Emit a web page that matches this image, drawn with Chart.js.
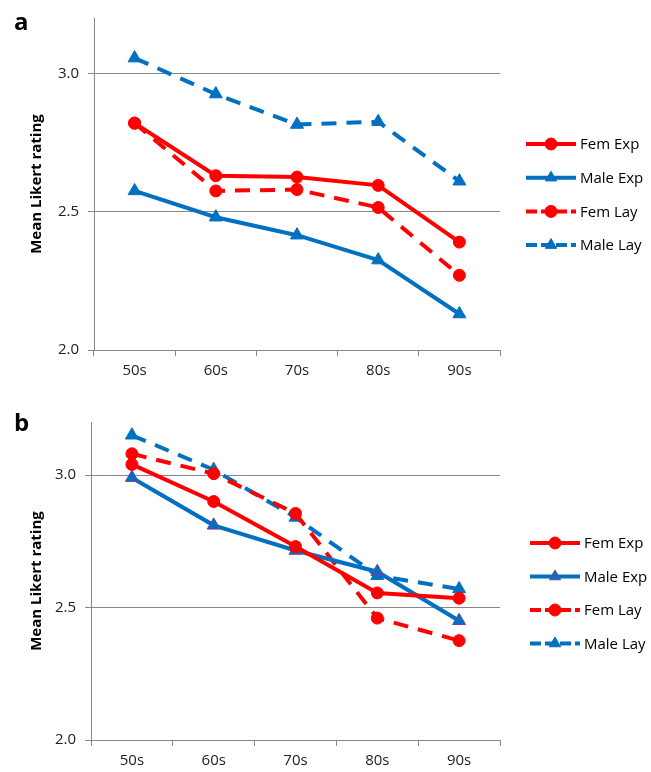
<!DOCTYPE html>
<html>
<head>
<meta charset="utf-8">
<script src="https://cdn.jsdelivr.net/npm/chart.js@4"></script>
<style>
  body { margin: 0; background: #fff; width: 651px; height: 772px; position: relative; overflow: hidden; }
  .panel { position: absolute; left: 0; width: 651px; height: 386px; }
  .tag { position: absolute; left: 14px; font: bold 24px "Open Sans", sans-serif; color: #000; }
</style>
</head>
<body>
<div class="panel" style="top:0"><canvas id="chartA"></canvas></div>
<div class="panel" style="top:386px"><canvas id="chartB"></canvas></div>
<div class="tag" style="top:4px">a</div>
<div class="tag" style="top:405px">b</div>
<script>
var decades = ['50s', '60s', '70s', '80s', '90s'];
var yTicks = [2.0, 2.5, 3.0];

// panel a
var aFemExp = [2.82, 2.63, 2.625, 2.595, 2.39];
var aMaleExp = [2.575, 2.48, 2.415, 2.325, 2.13];
var aFemLay = [2.82, 2.575, 2.58, 2.515, 2.27];
var aMaleLay = [3.055, 2.925, 2.815, 2.825, 2.61];

// panel b
var bFemExp = [3.04, 2.90, 2.73, 2.555, 2.535];
var bMaleExp = [2.99, 2.81, 2.715, 2.635, 2.45];
var bFemLay = [3.08, 3.005, 2.855, 2.46, 2.375];
var bMaleLay = [3.15, 3.02, 2.84, 2.62, 2.57];

var RED = '#ff0000';
var BLUE = '#0070c0';
var GREY = '#878787';
var FONT = '"Open Sans", sans-serif';

function series(label, data, color, dashed, shape, border) {
    return {
        label: label,
        data: data,
        borderColor: color,
        backgroundColor: color,
        borderWidth: 4,
        borderDash: dashed ? [15, 10] : [],
        tension: 0,
        pointStyle: shape,
        pointRadius: shape == 'circle' ? 6 : 7.5,
        pointHoverRadius: shape == 'circle' ? 6 : 7.5,
        pointBackgroundColor: color,
        pointBorderColor: border || color,
        pointBorderWidth: 1
    };
}

// legend drawn as line + marker, like the original
var lineLegend = {
    id: 'lineLegend',
    afterDraw: function (chart, args, opts) {
        var ctx = chart.ctx;
        ctx.save();
        chart.data.datasets.forEach(function (ds, i) {
            var y = opts.y + i * opts.dy;
            var x0 = opts.x, x1 = opts.x + 50, xm = opts.x + 25;
            ctx.strokeStyle = ds.borderColor;
            ctx.lineWidth = ds.borderWidth;
            ctx.setLineDash(ds.borderDash.length ? [11, 4] : []);
            ctx.beginPath();
            ctx.moveTo(x0, y);
            ctx.lineTo(x1, y);
            ctx.stroke();
            ctx.setLineDash([]);
            ctx.fillStyle = ds.pointBackgroundColor;
            ctx.strokeStyle = ds.pointBorderColor;
            ctx.lineWidth = 1;
            ctx.beginPath();
            if (ds.pointStyle == 'circle') {
                ctx.arc(xm, y, 6, 0, Math.PI * 2);
            } else {
                var r = 6.5;
                ctx.moveTo(xm, y - r);
                ctx.lineTo(xm + r * 0.866, y + r / 2);
                ctx.lineTo(xm - r * 0.866, y + r / 2);
                ctx.closePath();
            }
            ctx.fill();
            ctx.stroke();
            ctx.fillStyle = '#000';
            ctx.font = '15px ' + FONT;
            ctx.textBaseline = 'middle';
            ctx.fillText(ds.label, x1 + 4, y + 1);
        });
        ctx.restore();
    }
};

function makeChart(id, sets, area, legendPos) {
    return new Chart(document.getElementById(id), {
        type: 'line',
        data: { labels: decades, datasets: sets },
        plugins: [lineLegend],
        options: {
            responsive: true,
            maintainAspectRatio: false,
            animation: false,
            layout: { padding: { top: area.top, right: 151, left: 0, bottom: 0 } },
            plugins: {
                legend: { display: false },
                tooltip: { enabled: false },
                lineLegend: legendPos
            },
            scales: {
                x: {
                    offset: true,
                    grid: { offset: true, drawOnChartArea: false, color: GREY, tickLength: 6 },
                    border: { color: GREY, width: 1 },
                    ticks: { color: '#222', font: { family: FONT, size: 15 }, padding: 6 },
                    afterFit: function (s) { s.height = area.bottomSpace; }
                },
                y: {
                    min: 2.0,
                    max: 3.2,
                    afterBuildTicks: function (s) {
                        s.ticks = yTicks.map(function (v) { return { value: v }; });
                    },
                    grid: { color: GREY, tickLength: 6 },
                    border: { color: GREY, width: 1 },
                    ticks: {
                        color: '#222',
                        font: { family: FONT, size: 15 },
                        padding: 9,
                        callback: function (v) { return v.toFixed(1); }
                    },
                    title: {
                        display: true,
                        text: 'Mean Likert rating',
                        color: '#000',
                        font: { family: FONT, size: 15, weight: 'bold' },
                        padding: { top: 28, bottom: 0 }
                    },
                    afterFit: function (s) { s.width = area.left; }
                }
            }
        }
    });
}

makeChart('chartA', [
    series('Fem Exp', aFemExp, RED, false, 'circle'),
    series('Male Exp', aMaleExp, BLUE, false, 'triangle'),
    series('Fem Lay', aFemLay, RED, true, 'circle'),
    series('Male Lay', aMaleLay, BLUE, true, 'triangle')
], { top: 17, left: 94, bottomSpace: 36 }, { x: 526, y: 144, dy: 33.7 });

makeChart('chartB', [
    series('Fem Exp', bFemExp, RED, false, 'circle'),
    series('Male Exp', bMaleExp, BLUE, false, 'triangle', '#7a3fa0'),
    series('Fem Lay', bFemLay, RED, true, 'circle'),
    series('Male Lay', bMaleLay, BLUE, true, 'triangle')
], { top: 36, left: 91, bottomSpace: 32 }, { x: 530, y: 157, dy: 33.5 });
</script>
</body>
</html>
